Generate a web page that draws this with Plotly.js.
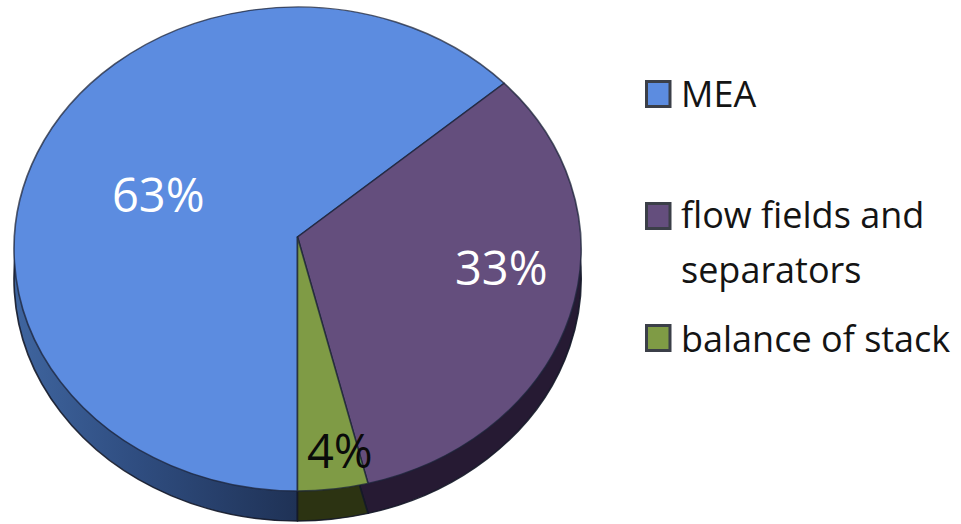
<!DOCTYPE html>
<html>
<head>
<meta charset="utf-8">
<script src="https://cdn.plot.ly/plotly-3.0.1.min.js"></script>
<style>html,body{margin:0;padding:0;background:#fff}#chart{width:961px;height:524px}</style>
</head>
<body>
<div id="chart"></div>
<script>
// Fuel cell stack cost shares
const categories = ['MEA', 'flow fields and<br>separators', 'balance of stack'];
const shares = [63, 33, 4];
const faceColors = ['#5c8ce0', '#644e7d', '#7f9b45'];
const wallColors = ['#28426f', '#261a33', '#2c3312'];
const labelColors = ['#ffffff', '#ffffff', '#0a0a0a'];

const W = 961, H = 524;
const px = x => x / W;
const py = y => 1 - y / H;

// The tilted disc: a circular pie stretched sideways after drawing.
const centreX = 297.5, faceTop = 7, faceBottom = 491, wallDepth = 30, halfWidth = 283.5;
const stretch = halfWidth / ((faceBottom - faceTop) / 2);
const hubLift = 12; // the far half of the disc looks shorter, so the hub sits above mid-height

function disc(vals, colors, top, bottom, lineColor, name) {
  return {
    type: 'pie', name: name, labels: categories, values: vals, sort: false,
    direction: 'clockwise', rotation: 180, textinfo: 'none', hoverinfo: 'label+percent',
    showlegend: false, automargin: false,
    marker: {colors: colors, line: {color: lineColor, width: 1.4}},
    domain: {x: [0, px(2 * centreX)], y: [py(bottom), py(top)]}
  };
}

const traces = [
  disc(shares, wallColors, faceTop + wallDepth, faceBottom + wallDepth, 'rgba(20,24,40,0.9)', 'side'),
  disc(shares, faceColors, faceTop, faceBottom, 'rgba(28,36,58,0.75)', 'face')
];

// Percentage labels on the slices
const labelAt = [[158, 194], [501, 267], [340, 450]];
const annotations = shares.map((v, i) => ({
  xref: 'paper', yref: 'paper', x: px(labelAt[i][0]), y: py(labelAt[i][1]),
  xanchor: 'center', yanchor: 'middle', showarrow: false, text: v + '%',
  font: {family: '"Open Sans", sans-serif', size: 47, color: labelColors[i]}
}));

// Key on the right: swatch plus one or two text lines
const keyRows = [[93], [215, 269], [338]];
const swatchMid = [94, 216, 338];
const shapes = [];
categories.forEach((name, i) => {
  name.split('<br>').forEach((line, j) => annotations.push({
    xref: 'paper', yref: 'paper', x: px(679), y: py(keyRows[i][j]),
    xanchor: 'left', yanchor: 'middle', showarrow: false, text: line,
    font: {family: '"Open Sans", sans-serif', size: 36, color: '#141414'}
  }));
  shapes.push({
    type: 'rect', xref: 'paper', yref: 'paper',
    x0: px(646.5), x1: px(670), y0: py(swatchMid[i] - 12.5), y1: py(swatchMid[i] + 12.5),
    fillcolor: faceColors[i], line: {color: '#3b3f48', width: 3}
  });
});

const layout = {
  width: W, height: H, margin: {l: 0, r: 0, t: 0, b: 0},
  paper_bgcolor: '#ffffff', plot_bgcolor: '#ffffff', showlegend: false,
  annotations: annotations, shapes: shapes
};

Plotly.newPlot('chart', traces, layout, {displayModeBar: false, staticPlot: true}).then(gd => {
  const groups = gd.querySelectorAll('.pielayer .trace');
  groups.forEach(g => {
    g.setAttribute('transform',
      'translate(' + centreX + ' 0) scale(' + stretch + ' 1) translate(' + (-centreX) + ' 0)');
  });

  // Raise the hub of the top face; the rim stays where the pie put it.
  groups[1].querySelectorAll('.slice path.surface').forEach(p => {
    p.setAttribute('d', p.getAttribute('d').replace(
      /^M([-\d.e]+),([-\d.e]+)l([-\d.e]+),([-\d.e]+)/,
      (m, x, y, dx, dy) => 'M' + x + ',' + (+y - hubLift) + 'l' + dx + ',' + (+dy + hubLift)));
  });

  // The blue side wall catches more light towards its left end.
  const ns = 'http://www.w3.org/2000/svg';
  const svg = gd.querySelector('.main-svg');
  const defs = svg.querySelector('defs') || svg.insertBefore(document.createElementNS(ns, 'defs'), svg.firstChild);
  const grad = document.createElementNS(ns, 'linearGradient');
  grad.setAttribute('id', 'blueWall');
  [['0', '#3f659f'], ['0.25', '#2f4d80'], ['0.6', '#1e3053'], ['1', '#1e3053']].forEach(([o, c]) => {
    const s = document.createElementNS(ns, 'stop');
    s.setAttribute('offset', o);
    s.setAttribute('stop-color', c);
    grad.appendChild(s);
  });
  defs.appendChild(grad);
  groups[0].querySelector('.slice path.surface').style.fill = 'url(#blueWall)';
});
</script>
</body>
</html>
